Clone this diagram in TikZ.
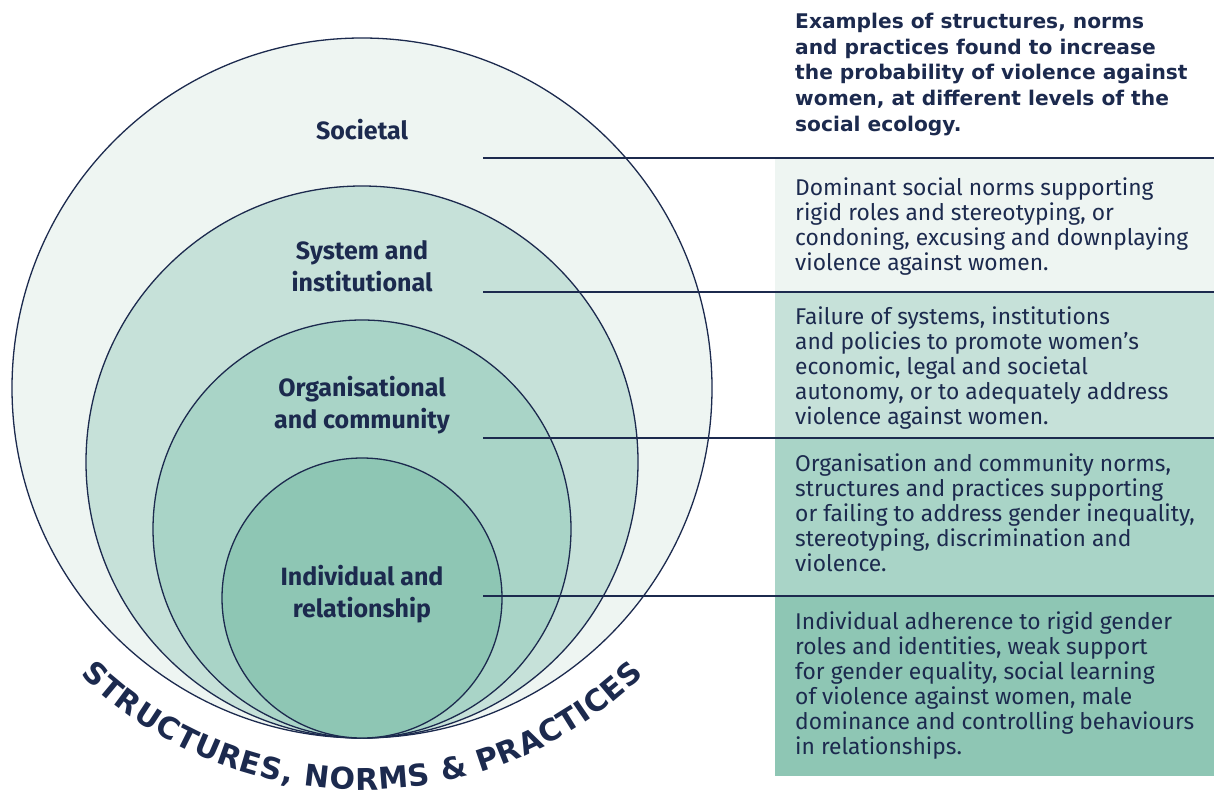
\documentclass[tikz,border=0pt]{standalone}
\usepackage{fontspec}
\setmainfont{Fira Sans}
\newfontfamily\lvlfont{Fira Sans}
\newfontfamily\headfont{DejaVu Sans}
\usetikzlibrary{decorations.text}
\definecolor{navy}{HTML}{1C2A4E}
\definecolor{lvlA}{HTML}{EEF5F2}
\definecolor{lvlB}{HTML}{C6E1D9}
\definecolor{lvlC}{HTML}{A9D4C7}
\definecolor{lvlD}{HTML}{8EC6B4}

\begin{document}
\begin{tikzpicture}[x=1pt,y=-1pt,
    ring/.style={draw=navy,line width=1.3pt},
    lvl/.style={text=navy,font=\lvlfont\bfseries\fontsize{25}{32}\selectfont,align=center,inner sep=0pt},
    band/.style={anchor=north west,minimum width=439pt,inner sep=0pt,draw=none},
    blurb/.style={anchor=north west,text=navy,font=\fontsize{22.8}{25}\selectfont,align=left,inner sep=0pt},
    rule/.style={draw=navy,line width=1.3pt}]
  \useasboundingbox (0,0) rectangle (1214,792);
  \draw[ring,fill=lvlA] (362,388) circle[radius=350];
  \draw[ring,fill=lvlB] (362,462) circle[radius=276];
  \draw[ring,fill=lvlC] (362,529) circle[radius=209];
  \draw[ring,fill=lvlD] (362,598) circle[radius=140];

  \node[band,fill=lvlA,minimum height=134pt] (b1) at (775,158) {};
  \node[band,fill=lvlB,minimum height=146pt] (b2) at (775,292) {};
  \node[band,fill=lvlC,minimum height=158pt] (b3) at (775,438) {};
  \node[band,fill=lvlD,minimum height=180pt] (b4) at (775,596) {};

  \coordinate (s1) at (483,158);
  \coordinate (s2) at (483,292);
  \coordinate (s3) at (483,438);
  \coordinate (s4) at (483,596);
  \draw[rule] (s1) -- (b1.north east);
  \draw[rule] (s2) -- (b2.north east);
  \draw[rule] (s3) -- (b3.north east);
  \draw[rule] (s4) -- (b4.north east);

  \node[lvl] (soc) at (362,130) {Societal};
  \node[lvl] (sys) at (362,266) {System and\\institutional};
  \node[lvl] (org) at (362,405) {Organisational\\and community};
  \node[lvl] (ind) at (362,594) {Individual and\\relationship};

  \node[blurb,font=\headfont\bfseries\fontsize{20.2}{25.7}\selectfont] (head) at (795,13)
    {Examples of structures, norms\\and practices found to increase\\the probability of violence against\\women, at different levels of the\\social ecology.};
  \node[blurb] (t1) at (795,178) {Dominant social norms supporting\\rigid roles and stereotyping, or\\condoning, excusing and downplaying\\violence against women.};
  \node[blurb] (t2) at (795,307) {Failure of systems, institutions\\and policies to promote women's\\economic, legal and societal\\autonomy, or to adequately address\\violence against women.};
  \node[blurb] (t3) at (795,454) {Organisation and community norms,\\structures and practices supporting\\or failing to address gender inequality,\\stereotyping, discrimination and\\violence.};
  \node[blurb] (t4) at (795,612) {Individual adherence to rigid gender\\roles and identities, weak support\\for gender equality, social learning\\of violence against women, male\\dominance and controlling behaviours\\in relationships.};

  \path[decorate,decoration={text along path,text align={fit to path},
      text={|\headfont\bfseries\fontsize{30}{30}\selectfont\color{navy}|STRUCTURES, NORMS {\&} PRACTICES}}]
    (362,388) ++(134.5:402) arc[start angle=134.5,end angle=45.5,radius=402];
\end{tikzpicture}
\end{document}
